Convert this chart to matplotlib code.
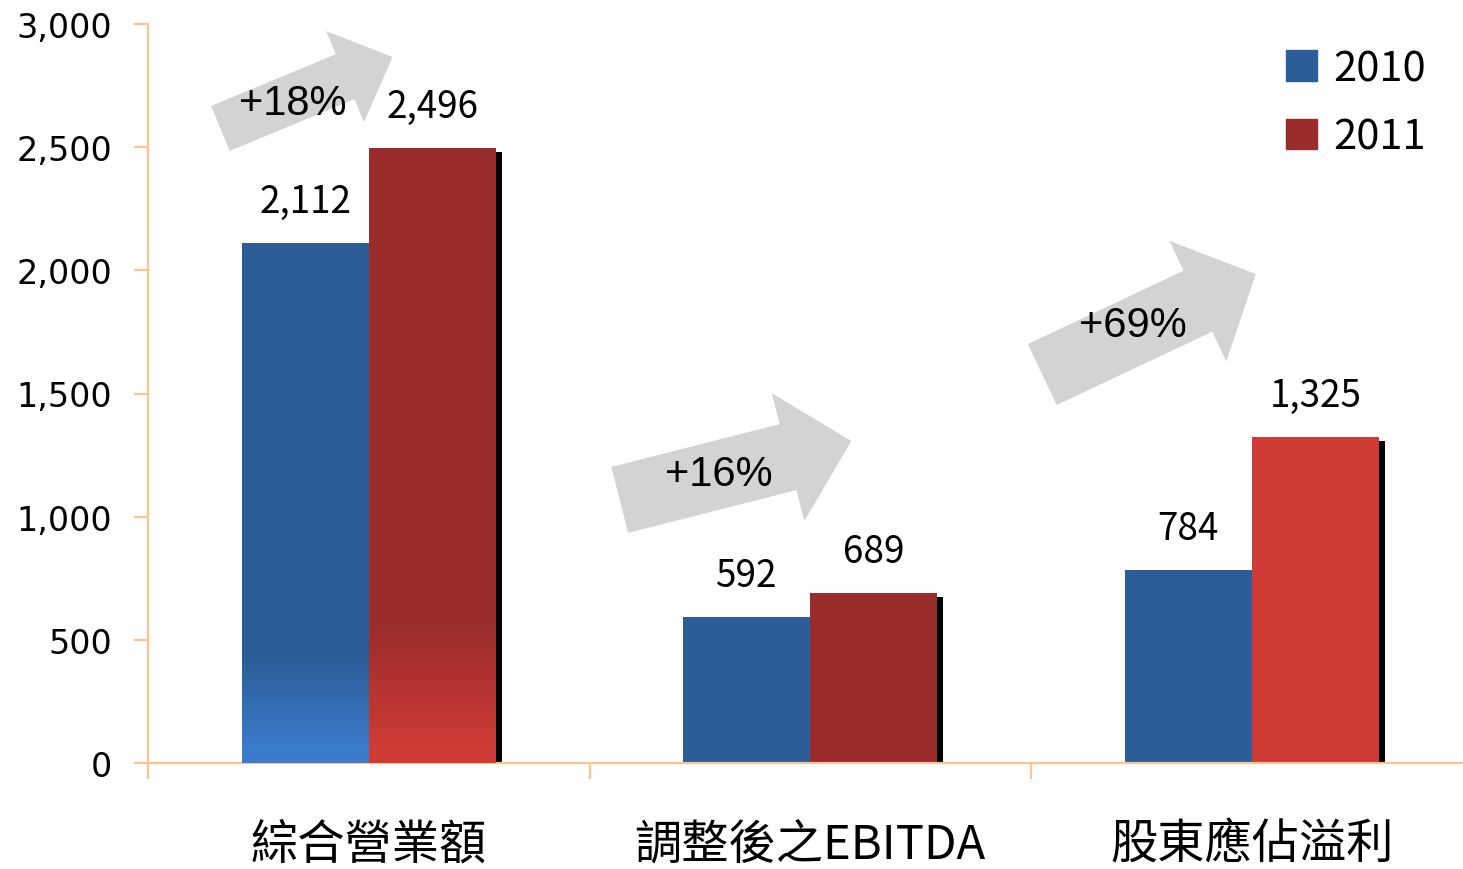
import matplotlib
matplotlib.use('Agg')
import matplotlib.pyplot as plt
import matplotlib.transforms as mtransforms
from matplotlib.patches import Patch
from matplotlib.colors import to_rgb
import numpy as np

categories = ['綜合營業額', '調整後之EBITDA', '股東應佔溢利']
years = ['2010', '2011']
vals_2010 = [2112, 592, 784]
vals_2011 = [2496, 689, 1325]
yticks = [0, 500, 1000, 1500, 2000, 2500, 3000]

blue = '#2C5D98'
reds = ['#9A2C2B', '#9A2C2B', '#CF3A36']
axis_col = '#FAC590'
arrow_col = '#D3D3D3'

fig = plt.figure(figsize=(14.63, 8.70), dpi=100)
ax = fig.add_axes([148 / 1463, 106 / 870, 1315 / 1463, 739 / 870])

x = np.arange(len(categories))
w = 0.288

# shadow behind the 2011 bars
px_x = 1 / 441.5
px_y = 3000 / 739
for i, v in enumerate(vals_2011):
    ax.bar(x[i] + w / 2 + 6 * px_x, v - 4 * px_y, w, color='black', zorder=1)

b1 = ax.bar(x - w / 2, vals_2010, w, color=blue, zorder=2)
b2 = ax.bar(x + w / 2, vals_2011, w, color=reds, zorder=2)


def gradient(xc, top, c_top, c_bot, flat, n=80):
    # paint the lower part of a bar in thin slices
    ct, cb = np.array(to_rgb(c_top)), np.array(to_rgb(c_bot))
    edges = np.linspace(0, top, n + 1)
    for y0, y1 in zip(edges[:-1], edges[1:]):
        f = np.clip(((y0 + y1) / 2 - flat) / (top - flat), 0, 1)
        ax.bar(xc, y1 - y0 + 1, w, bottom=y0, color=cb * (1 - f) + ct * f,
               linewidth=0, zorder=3)


# gradient at the bottom of the first group
gradient(x[0] - w / 2, 420, blue, '#3B7BCB', 60)
gradient(x[0] + w / 2, 560, reds[0], '#D03A35', 60)

# value labels
num_font = dict(family='Noto Sans CJK TC', size=26.5)
for bars, vals in [(b1, vals_2010), (b2, vals_2011)]:
    for r, v in zip(bars, vals):
        ax.annotate(f'{v:,}', (r.get_x() + r.get_width() / 2, v),
                    xytext=(0, 30), textcoords='offset points',
                    ha='center', va='center', zorder=6, **num_font)

# growth arrows (tail, tip relative to group centre) and text
arrows = [
    ((-0.336, 2576), (0.054, 2866), 35, 71, 37),
    ((-0.4315, 1068), (0.093, 1307), 49, 95, 47),
    ((-0.4745, 1577), (0.009, 1985), 48.5, 96, 46),
]
pct_pos = [(-0.172, 2680), (-0.206, 1173), (-0.27, 1778)]
for i, ((tx, ty), (hx, hy), tw, hw, hl) in enumerate(arrows):
    ax.annotate('', xy=(x[i] + hx, hy), xytext=(x[i] + tx, ty),
                arrowprops=dict(arrowstyle=f'simple,head_length={hl},head_width={hw},tail_width={tw}',
                                fc=arrow_col, ec='none', mutation_scale=1,
                                shrinkA=0, shrinkB=0), zorder=4)
    pct = round((vals_2011[i] / vals_2010[i] - 1) * 100)
    ax.text(x[i] + pct_pos[i][0], pct_pos[i][1], f'+{pct}%', ha='center', va='center',
            family='Liberation Sans', size=30, zorder=5)

ax.set_xlim(-0.5, -0.5 + 1315 / 441.5)
ax.set_ylim(0, 3000)

for s in ['top', 'right']:
    ax.spines[s].set_visible(False)
for s in ['left', 'bottom']:
    ax.spines[s].set_color(axis_col)
    ax.spines[s].set_linewidth(1.6)

ax.set_yticks(yticks)
ax.set_yticklabels([f'{t:,}' for t in yticks], family='DejaVu Sans', size=24)
ax.tick_params(axis='y', length=10, width=1.6, color=axis_col, pad=16)
ax.set_xticks([-0.5, 0.5, 1.5])
ax.set_xticklabels([])
ax.tick_params(axis='x', length=11.5, width=1.6, color=axis_col)

tr = mtransforms.blended_transform_factory(ax.transData, ax.transAxes)
for i, c in enumerate(categories):
    ax.text(x[i], -81 / 739, c, transform=tr, ha='center', va='center',
            family='Noto Sans CJK TC', size=34)

handles = [Patch(color=blue), Patch(color=reds[0])]
ax.legend(handles, years, loc='upper left', bbox_to_anchor=(1286 / 1463, 1 - 49 / 870),
          bbox_transform=fig.transFigure, frameon=False, borderpad=0, borderaxespad=0,
          handlelength=0.74, handleheight=0.74, handletextpad=0.4, labelspacing=0.66,
          prop=dict(family='Noto Sans CJK TC', size=30))

plt.savefig('out.png', dpi=100)
